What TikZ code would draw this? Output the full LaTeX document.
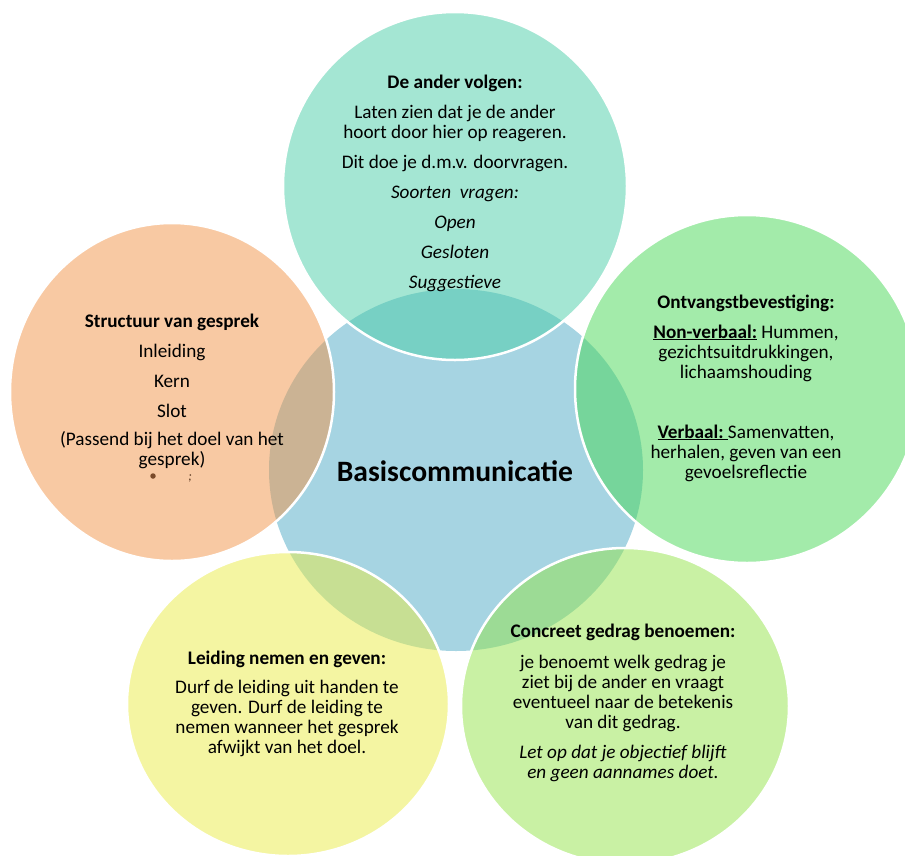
\documentclass[tikz,border=0pt]{standalone}
\usepackage{fontspec}
\setmainfont{Carlito}
\definecolor{cblue}{RGB}{166,212,226}
\definecolor{cteal}{RGB}{73,205,167}
\definecolor{corange}{RGB}{241,147,71}
\definecolor{cgreen}{RGB}{71,215,85}
\definecolor{cyellow}{RGB}{233,235,69}
\definecolor{clime}{RGB}{147,227,73}
\definecolor{cdot}{RGB}{122,74,42}
\begin{document}
\lineskiplimit=-20pt\relax
\begin{tikzpicture}[x=1pt,y=-1pt,
  bubble/.style={fill opacity=0.5, draw=white, line width=2.5pt},
  body/.style={align=center, font=\fontsize{19.2}{20}\selectfont, text=black, inner sep=0pt, anchor=base},
  title/.style={font=\fontsize{29.6}{32}\selectfont\bfseries, text=black, inner sep=0pt, anchor=base}]
\useasboundingbox (0,0) rectangle (905,855);
\clip (0,0) rectangle (905,855);
% centre
\fill[cblue] (456,470) ellipse [x radius=187pt, y radius=181pt];
% outer bubbles
\path[bubble, fill=cteal]   (455,186) ellipse [x radius=172pt, y radius=174pt];
\path[bubble, fill=corange] (172,392) ellipse [x radius=162pt, y radius=169pt];
\path[bubble, fill=cgreen]  (747,389) ellipse [x radius=172pt, y radius=174pt];
\path[bubble, fill=cyellow] (288,704) ellipse [x radius=161pt, y radius=152pt];
\path[bubble, fill=clime]   (625,706) ellipse [x radius=164pt, y radius=158pt];
% texts (anchor = baseline of the last line)
\node[title] (basis) at (455,481) {Basiscommunicatie};
\node[body] (volgen) at (455,288) {\textbf{De ander volgen:}\\[10pt]Laten zien dat je de ander\\hoort door hier op reageren.\\[10pt]Dit doe je d.m.v. doorvragen.\\[10pt]\textit{Soorten\ \ vragen:}\\[10pt]\textit{Open}\\[10pt]\textit{Gesloten}\\[10pt]\textit{Suggestieve}};
\node[body] (structuur) at (172,465) {\textbf{Structuur van gesprek}\\[10pt]Inleiding\\[10pt]Kern\\[10pt]Slot\\[8pt](Passend bij het doel van het\\gesprek)};
\node[circle, fill=cdot, inner sep=0pt, minimum size=5.5pt] (dot) at (153,476) {};
\node[text=cdot!70!black, font=\fontsize{13}{14}\selectfont\itshape, inner sep=0pt, anchor=base] (semi) at (190,480) {;};
\node[body] (ontvangst) at (746,478) {\textbf{Ontvangstbevestiging:}\\[10pt]\underline{\textbf{Non-verbaal:}} Hummen,\\gezichtsuitdrukkingen,\\lichaamshouding\\[40pt]\underline{\textbf{Verbaal:}\ }Samenvatten,\\herhalen, geven van een\\gevoelsreflectie};
\node[body] (leiding) at (287,753) {\textbf{Leiding nemen en geven:}\\[9pt]Durf de leiding uit handen te\\geven. Durf de leiding te\\nemen wanneer het gesprek\\afwijkt van het doel.};
\node[body] (concreet) at (623,778) {\textbf{Concreet gedrag benoemen:}\\[11pt]je benoemt welk gedrag je\\ziet bij de ander en vraagt\\eventueel naar de betekenis\\van dit gedrag.\\[10pt]\textit{Let op dat je objectief blijft}\\\textit{en geen aannames doet.}};
\end{tikzpicture}
\end{document}
